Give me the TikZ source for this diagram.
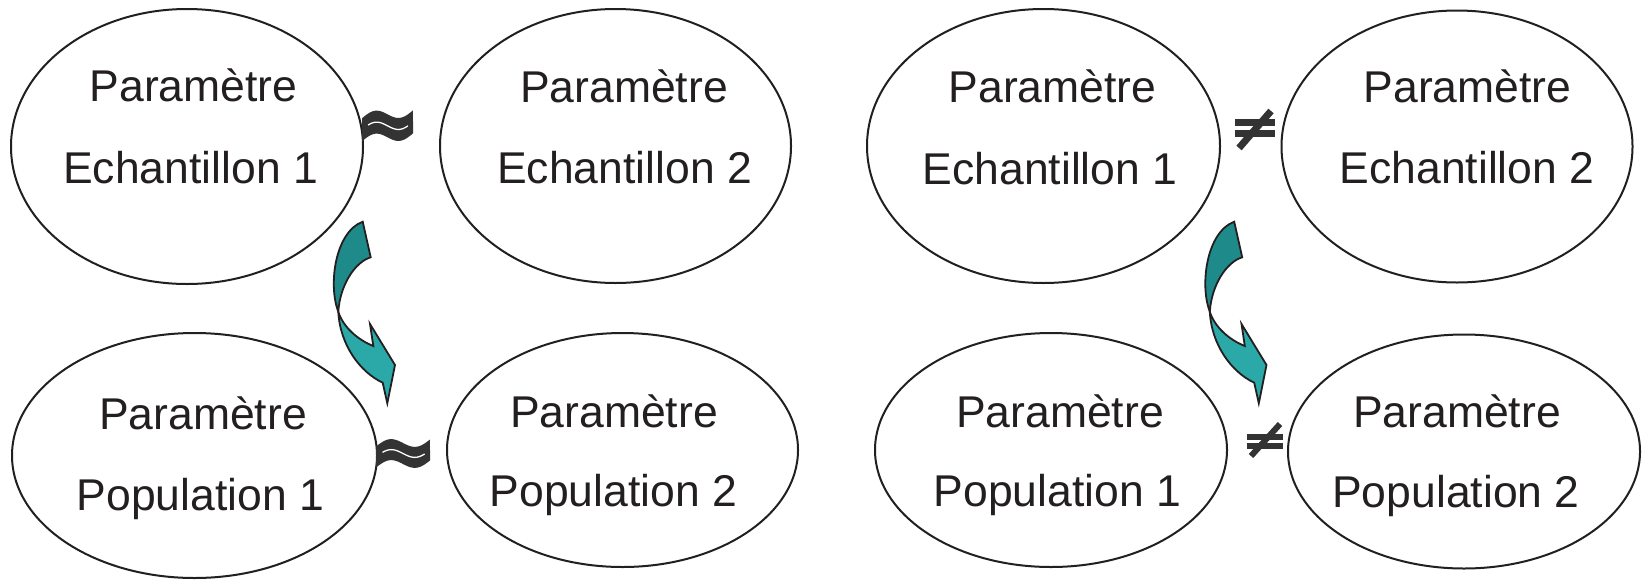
\documentclass[tikz,border=0pt]{standalone}
\usepackage{fontspec}
\setmainfont{Liberation Sans}
\usetikzlibrary{shapes.geometric}
\definecolor{inkc}{HTML}{231F20}
\definecolor{symc}{HTML}{333333}
\definecolor{tealdark}{HTML}{1F8A8A}
\definecolor{teallight}{HTML}{2BA8A8}
\tikzset{
  oval/.style={ellipse, draw=inkc, line width=2pt, inner sep=0pt, outer sep=0pt},
  lbl/.style={anchor=base, inner sep=0pt, text=inkc, font=\fontsize{44.5}{50}\selectfont},
  arrowout/.style={draw=inkc, line width=1.8pt, line join=miter},
  symfill/.style={fill=symc},
}
\newcommand{\wavesym}[5]{% x0 y0 W T tilt
  \fill[symfill] plot[domain=0:1,samples=40] ({#1+#3*\x},{#2-#5*\x-5.5*sin(360*\x)})
     -- plot[domain=1:0,samples=40] ({#1+#3*\x},{#2+#4-#5*\x-5.5*sin(360*\x)}) -- cycle;
  \draw[white,line width=1.3pt] plot[domain=0.12:0.9,samples=40] ({#1+#3*\x},{#2+#4/2-#5*\x-5.5*sin(360*\x)});
}
\newcommand{\twistarrow}{%
  \filldraw[arrowout, fill=tealdark] (362.7,221.7) .. controls (335,232) and (328,285) .. (338.3,311.7)
     .. controls (340,285) and (355,262) .. (370.7,257.3) -- cycle;
  \filldraw[arrowout, fill=teallight] (338.3,311.7) .. controls (343,327) and (358,340) .. (373.3,346)
     -- (370,324) -- (395,365) -- (387.3,403.3) -- (382.7,382.7)
     .. controls (360,372) and (340,345) .. (338.3,311.7) -- cycle;
}
\begin{document}
\begin{tikzpicture}[x=1pt,y=-1pt]
\useasboundingbox (0,0) rectangle (1645,581);
% left group
\node[oval, minimum width=352pt, minimum height=275pt] (e1) at (187,146.5) {};
\node[lbl] (e1a) at (193.5,101) {Paramètre};
\node[lbl] (e1b) at (190.5,183) {Echantillon 1};
\node[oval, minimum width=351pt, minimum height=274pt] (e2) at (615.5,146) {};
\node[lbl] (e2a) at (624,102.7) {Paramètre};
\node[lbl] (e2b) at (624.5,183.3) {Echantillon 2};
\node[oval, minimum width=365pt, minimum height=245pt] (e3) at (194.5,455.5) {};
\node[lbl] (e3a) at (203,429.3) {Paramètre};
\node[lbl] (e3b) at (200.5,510) {Population 1};
\node[oval, minimum width=351pt, minimum height=234pt] (e4) at (622.5,450) {};
\node[lbl] (e4a) at (614,427.3) {Paramètre};
\node[lbl] (e4b) at (613.5,506) {Population 2};
% right group
\node[oval, minimum width=353pt, minimum height=274pt] (e5) at (1043.5,146) {};
\node[lbl] (e5a) at (1052.5,102.7) {Paramètre};
\node[lbl] (e5b) at (1050,184) {Echantillon 1};
\node[oval, minimum width=351pt, minimum height=272pt] (e6) at (1457,146.5) {};
\node[lbl] (e6a) at (1467.5,102.5) {Paramètre};
\node[lbl] (e6b) at (1467,183.3) {Echantillon 2};
\node[oval, minimum width=352pt, minimum height=234pt] (e7) at (1051,450) {};
\node[lbl] (e7a) at (1060,427.3) {Paramètre};
\node[lbl] (e7b) at (1057.5,506.7) {Population 1};
\node[oval, minimum width=352pt, minimum height=234pt] (e8) at (1464,451.5) {};
\node[lbl] (e8a) at (1457,427) {Paramètre};
\node[lbl] (e8b) at (1456,507) {Population 2};
% approx symbols
\wavesym{362}{118.3}{51}{23}{8}
\wavesym{376}{446.5}{54}{21}{7}
% not-equal symbols
\fill[symfill] (1235,119) rectangle (1275,126);
\fill[symfill] (1235,130) rectangle (1275,137);
\draw[symc, line width=7pt] (1239,148) -- (1271,111);
\fill[symfill] (1247,434) rectangle (1283,440);
\fill[symfill] (1247,443) rectangle (1283,449);
\draw[symc, line width=6pt] (1251,456) -- (1280,424);
% twisted arrows
\twistarrow
\begin{scope}[shift={(871.5,0)}]
\twistarrow
\end{scope}
\end{tikzpicture}
\end{document}
